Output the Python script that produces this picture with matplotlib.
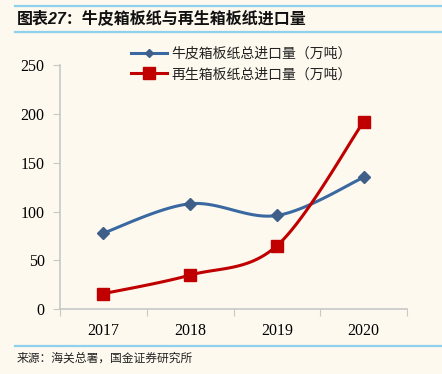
import numpy as np
import matplotlib
matplotlib.use("Agg")
import matplotlib.pyplot as plt
from matplotlib.lines import Line2D

years = ["2017", "2018", "2019", "2020"]
kraft = [78, 108, 96, 135]
recycled = [16, 35, 65, 192]
yticks = [0, 50, 100, 150, 200, 250]
title = "图表27：牛皮箱板纸与再生箱板纸进口量"
labels = ["牛皮箱板纸总进口量（万吨）", "再生箱板纸总进口量（万吨）"]
source = "来源：海关总署，国金证券研究所"

BG = "#FDF9EF"
BLUE = "#3A69A2"
BLUE_M = "#3F5F8A"
RED = "#C00000"
LINEC = "#8FD0EC"


def smooth(x, y, n=40):
    x = np.asarray(x, float); y = np.asarray(y, float)
    px = np.concatenate([[x[0]], x, [x[-1]]])
    py = np.concatenate([[y[0]], y, [y[-1]]])
    xs, ys = [], []
    t = np.linspace(0, 1, n)
    for i in range(1, len(px) - 2):
        p0, p1, p2, p3 = (np.array([px[j], py[j]]) for j in range(i - 1, i + 3))
        b1 = p1 + (p2 - p0) / 6
        b2 = p2 - (p3 - p1) / 6
        pts = ((1 - t) ** 3)[:, None] * p1 + (3 * (1 - t) ** 2 * t)[:, None] * b1 \
            + (3 * (1 - t) * t ** 2)[:, None] * b2 + (t ** 3)[:, None] * p2
        xs.append(pts[:, 0]); ys.append(pts[:, 1])
    return np.concatenate(xs), np.concatenate(ys)


plt.rcParams['font.family'] = ['Liberation Serif', 'Noto Sans CJK SC']
fig = plt.figure(figsize=(4.42, 3.74), dpi=100, facecolor=BG)
W, H = 442, 374
ax = fig.add_axes([60 / W, 1 - 309.3 / H, (407 - 60) / W, (309.3 - 65) / H])
ax.set_facecolor(BG)

x = np.arange(len(years))
sx, sy = smooth(x, kraft)
ax.plot(sx, sy, color=BLUE, lw=2.2, solid_capstyle='round', zorder=3)
ax.plot(x, kraft, ls='none', marker='D', ms=6, color=BLUE_M, zorder=4)
rx, ry = smooth(x, recycled)
ax.plot(rx, ry, color=RED, lw=2.2, solid_capstyle='round', zorder=3)
ax.plot(x, recycled, ls='none', marker='s', ms=8, color=RED, zorder=4)

ax.set_xlim(-0.5, 3.5)
ax.set_ylim(0, 250)
ax.set_yticks(yticks)
ax.set_yticklabels([str(v) for v in yticks], fontsize=11.5)
ax.set_xticks(np.arange(-0.5, 3.6, 1))
ax.set_xticklabels([])
ax.set_xticks(x, minor=True)
ax.set_xticklabels(years, minor=True, fontsize=11.5)
ax.tick_params(axis='x', which='minor', length=0, pad=10)
ax.tick_params(axis='x', which='major', length=5, color='#C8C8C8', direction='out')
ax.tick_params(axis='y', length=5, color='#C8C8C8', direction='out', pad=6)
for s in ['top', 'right']:
    ax.spines[s].set_visible(False)
for s in ['left', 'bottom']:
    ax.spines[s].set_color('#C8C8C8')
    ax.spines[s].set_linewidth(1.2)

handles = [Line2D([], [], color=BLUE, lw=2.2, marker='D', ms=4.5, markerfacecolor=BLUE_M, markeredgecolor=BLUE_M),
           Line2D([], [], color=RED, lw=2.2, marker='s', ms=8)]
leg = fig.legend(handles, labels, loc='upper left', bbox_to_anchor=(124 / W, 1 - 40 / H),
                 frameon=False, prop={'family': 'Noto Sans CJK SC', 'size': 10},
                 handlelength=2.6, handletextpad=0.3, labelspacing=0.45, borderpad=0)
for t in leg.get_texts():
    t.set_color('#222222')

# header / footer
fig.add_artist(Line2D([15 / W, 1], [1 - 5.5 / H] * 2, color=LINEC, lw=1.6))
fig.add_artist(Line2D([15 / W, 1], [1 - 31.5 / H] * 2, color=LINEC, lw=1.6))
fig.text(17 / W, 1 - 18.5 / H, title, fontsize=11.5, fontweight='bold', style='italic',
         family=['Liberation Sans', 'Noto Sans CJK SC'], va='center', ha='left', color='#111111')
fig.add_artist(Line2D([15 / W, 1], [1 - 345.5 / H] * 2, color=LINEC, lw=1.6))
fig.text(17 / W, 1 - 358 / H, source, fontsize=8.5, family=['Noto Sans CJK SC'],
         va='center', ha='left', color='#222222')

fig.savefig("out.png", dpi=100, facecolor=BG)
